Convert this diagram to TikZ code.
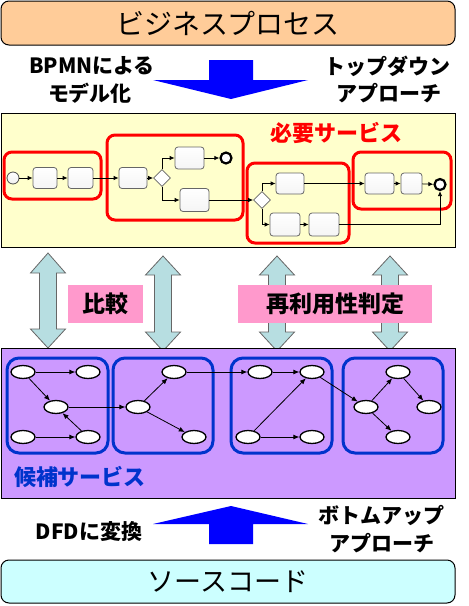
\documentclass[tikz,border=0pt]{standalone}
\usepackage{fontspec}
\setmainfont{Noto Sans CJK JP}
\usetikzlibrary{arrows.meta,shapes.geometric}
\definecolor{peach}{RGB}{255,204,153}
\definecolor{lyellow}{RGB}{255,255,204}
\definecolor{lpurple}{RGB}{204,153,255}
\definecolor{lcyan}{RGB}{204,255,255}
\definecolor{pinkl}{RGB}{255,153,204}
\definecolor{arrcyan}{RGB}{183,222,225}
\definecolor{sblue}{RGB}{0,51,204}
\definecolor{bigblue}{RGB}{0,0,255}
\definecolor{sred}{RGB}{255,0,0}
\newcommand{\dblarr}[5]{\draw[dblstyle] (#1,#2) -- ({#1+17.5},#4) -- ({#1+8.5},#4) -- ({#1+8.5},#5) -- ({#1+17.5},#5) -- (#1,#3) -- ({#1-17.5},#5) -- ({#1-8.5},#5) -- ({#1-8.5},#4) -- ({#1-17.5},#4) -- cycle;}
\tikzset{
  mainbox/.style={draw=black, line width=1pt, minimum width=454pt, minimum height=#1, inner sep=0pt},
  task/.style={draw=black!60, line width=0.8pt, rounded corners=3pt, top color=white, bottom color=black!4, inner sep=0pt},
  gw/.style={diamond, draw=black!60, line width=0.8pt, fill=white, minimum width=17pt, minimum height=17pt, inner sep=0pt},
  startev/.style={circle, draw=black!70, line width=0.8pt, top color=white, bottom color=black!6, minimum size=12pt, inner sep=0pt},
  endev/.style={circle, draw=black, line width=2.2pt, fill=white, minimum size=11pt, inner sep=0pt},
  flow/.style={draw=black, line width=0.8pt, -{Latex[length=5pt,width=4.5pt]}},
  redbox/.style={draw=sred, line width=3pt, rounded corners=8pt, inner sep=0pt},
  bluebox/.style={draw=sblue, line width=3pt, rounded corners=12pt, inner sep=0pt, minimum height=95pt},
  ell/.style={ellipse, draw=black, line width=1.3pt, fill=white, minimum width=24pt, minimum height=13pt, inner sep=0pt},
  garr/.style={draw=black, line width=0.8pt, -{Latex[length=6pt,width=5pt]}},
  lab/.style={font=\fontsize{21pt}{22pt}\selectfont\bfseries, inner sep=0pt},
  pinklab/.style={fill=pinkl, minimum height=38pt, inner sep=0pt, font=\fontsize{23pt}{24pt}\selectfont\bfseries},
  dblstyle/.style={fill=arrcyan, draw=black!60, line width=0.8pt, line join=miter},
  bigarr/.style={fill=bigblue, draw=none}
}
\begin{document}
\begin{tikzpicture}[x=1pt,y=-1pt]
\useasboundingbox (0,0) rectangle (469,606);
% top box
\node (top) [mainbox=44pt, fill=peach, rounded corners=8pt, font=\fontsize{28pt}{30pt}\selectfont] at (228,23) {ビジネスプロセス};
% top arrow and labels
\path[bigarr] (209,60) -- (253,60) -- (253,80) -- (308,80) -- (231,99) -- (153,80) -- (209,80) -- cycle;
\node (bpmn) [lab] at (92,66) {BPMNによる};
\node (model) [lab] at (90,93) {モデル化};
\node (td1) [lab] at (387,66) {トップダウン};
\node (td2) [lab] at (389,93) {アプローチ};
% double arrows
\dblarr{48}{253}{348}{273}{329}
\dblarr{163}{256}{351}{275}{332}
\dblarr{277}{256}{351}{275}{332}
\dblarr{390}{256}{351}{275}{332}
% yellow and purple boxes
\node (yel) [mainbox=134pt, fill=lyellow] at (228,180) {};
\node (pur) [mainbox=150pt, fill=lpurple] at (228,423) {};
% pink labels
\node (cmp) [pinklab, minimum width=75pt] at (105.5,304) {比較};
\node (reuse) [pinklab, minimum width=194pt] at (335,304) {再利用性判定};
% required services label
\node (req) [lab, text=sred, font=\fontsize{22pt}{23pt}\selectfont\bfseries] at (336,133) {必要サービス};
% red boxes
\node (rb1) [redbox, minimum width=97pt, minimum height=47pt] at (52.5,175.5) {};
\node (rb2) [redbox, minimum width=136pt, minimum height=85pt] at (175,177.5) {};
\node (rb3) [redbox, minimum width=102pt, minimum height=80pt] at (298,203) {};
\node (rb4) [redbox, minimum width=98pt, minimum height=57pt] at (402,180.5) {};
% BPMN elements
\node (s) [startev] at (13,178) {};
\node (t1) [task, minimum width=24pt, minimum height=21pt] at (45,178) {};
\node (t2) [task, minimum width=25pt, minimum height=21pt] at (80.5,178) {};
\node (t3) [task, minimum width=28pt, minimum height=21pt] at (133,178) {};
\node (d1) [gw] at (162,178) {};
\node (t4) [task, minimum width=29pt, minimum height=22pt] at (189.5,158) {};
\node (e1) [endev] at (226,158) {};
\node (t5) [task, minimum width=29pt, minimum height=23pt] at (194.5,200) {};
\node (d2) [gw] at (262,200) {};
\node (t6) [task, minimum width=28pt, minimum height=21pt] at (290,183.5) {};
\node (t7) [task, minimum width=30pt, minimum height=23pt] at (285,224.5) {};
\node (t8) [task, minimum width=30pt, minimum height=23pt] at (324,224.5) {};
\node (t9) [task, minimum width=29pt, minimum height=21pt] at (379.5,183.5) {};
\node (t10) [task, minimum width=21pt, minimum height=21pt] at (411.5,183.5) {};
\node (e2) [endev] at (440,184.5) {};
\draw[flow] (s) -- (t1);
\draw[flow] (t1) -- (t2);
\draw[flow] (t2) -- (t3);
\draw[flow] (t3) -- (d1);
\draw[flow] (d1.north) |- (t4.west);
\draw[flow] (d1.south) |- (t5.west);
\draw[flow] (t4) -- (e1);
\draw[flow] (t5.east) -- (d2.west);
\draw[flow] (d2.north) |- (t6.west);
\draw[flow] (d2.south) |- (t7.west);
\draw[flow] (t7) -- (t8);
\draw[flow] (t6) -- (t9);
\draw[flow] (t9) -- (t10);
\draw[flow] (t10) -- (e2);
\draw[flow] (t8.east) -| (e2.south);
% blue boxes
\node (bb1) [bluebox, minimum width=101pt] at (57.5,405.5) {};
\node (bb2) [bluebox, minimum width=100pt] at (163,405.5) {};
\node (bb3) [bluebox, minimum width=101pt] at (281.5,405.5) {};
\node (bb4) [bluebox, minimum width=100pt] at (393,405.5) {};
% graph nodes
\node (g1) [ell] at (23,372) {};
\node (g2) [ell] at (88,372) {};
\node (g3) [ell] at (56,407) {};
\node (g4) [ell] at (23,437) {};
\node (g5) [ell] at (88,437) {};
\node (g6) [ell] at (138,407) {};
\node (g7) [ell] at (174,372) {};
\node (g8) [ell] at (194,437) {};
\node (g9) [ell] at (260,372) {};
\node (g10) [ell] at (312,372) {};
\node (g11) [ell] at (248,437) {};
\node (g12) [ell] at (312,437) {};
\node (g13) [ell] at (366,407) {};
\node (g14) [ell] at (398,372) {};
\node (g15) [ell] at (429,407) {};
\node (g16) [ell] at (398,437) {};
\draw[garr] (g1) -- (g2);
\draw[garr] (g1) -- (g3);
\draw[garr] (g4) -- (g5);
\draw[garr] (g5) -- (g3);
\draw[garr] (g3) -- (g6);
\draw[garr] (g6) -- (g7);
\draw[garr] (g6) -- (g8);
\draw[garr] (g7) -- (g9);
\draw[garr] (g9) -- (g10);
\draw[garr] (g11) -- (g10);
\draw[garr] (g11) -- (g12);
\draw[garr] (g10) -- (g13);
\draw[garr] (g13) -- (g14);
\draw[garr] (g14) -- (g15);
\draw[garr] (g13) -- (g16);
\node (cand) [lab, text=sblue, font=\fontsize{22pt}{23pt}\selectfont\bfseries] at (80,477) {候補サービス};
% bottom arrow and labels
\path[bigarr] (231,506) -- (308,524) -- (253,524) -- (253,544) -- (209,544) -- (209,524) -- (153,524) -- cycle;
\node (dfd) [lab] at (89,532) {DFDに変換};
\node (bu1) [lab] at (381,515) {ボトムアップ};
\node (bu2) [lab] at (382,543) {アプローチ};
% bottom box
\node (src) [mainbox=43pt, fill=lcyan, rounded corners=8pt, font=\fontsize{27pt}{29pt}\selectfont] at (228,581.5) {ソースコード};
\end{tikzpicture}
\end{document}
